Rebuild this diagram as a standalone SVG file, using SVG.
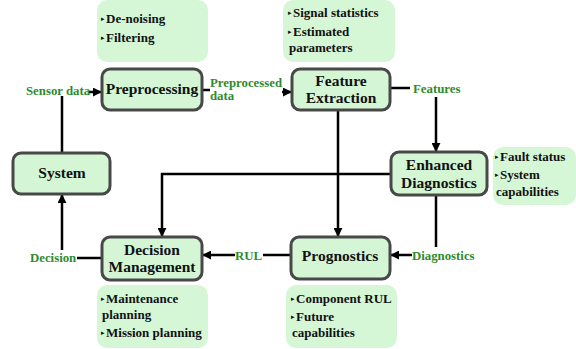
<svg xmlns="http://www.w3.org/2000/svg" width="576" height="349" viewBox="0 0 576 349">
  <defs>
    <marker id="arrow" viewBox="0 0 10 10" refX="9" refY="5" markerWidth="3.6" markerHeight="3.6" orient="auto" markerUnits="strokeWidth">
      <path d="M0,0 L10,5 L0,10 z" fill="#000"/>
    </marker>
  </defs>
  <style>
    .box { fill: #d4f6d4; stroke: #484848; stroke-width: 3; }
    .note { fill: #d6f7d6; stroke: none; }
    .lbl { font-family: "Liberation Serif", "Times New Roman", serif; font-weight: bold; font-size: 15.5px; fill: #111; text-anchor: middle; }
    .nt { font-family: "Liberation Serif", "Times New Roman", serif; font-weight: bold; font-size: 13px; fill: #111; }
    .bul { font-family: "DejaVu Sans", sans-serif; font-size: 7px; fill: #111; }
    .gl { font-family: "Liberation Serif", "Times New Roman", serif; font-weight: bold; font-size: 12.8px; fill: #2e8b2e; }
    .ln { fill: none; stroke: #000; stroke-width: 2.5; }
    .la { fill: none; stroke: #000; stroke-width: 2.5; marker-end: url(#arrow); }
  </style>

  <!-- connectors -->
  <g id="connectors">
    <!-- sensor data into preprocessing, and system feed -->
    <line class="la" x1="89" y1="92" x2="101" y2="92"/>
    <line class="ln" x1="62" y1="96" x2="62" y2="153"/>
    <text class="gl" x="26" y="95">Sensor data</text>

    <!-- preprocessing to feature extraction -->
    <line class="ln" x1="202" y1="90" x2="210" y2="90"/>
    <text class="gl" x="210" y="87">Preprocessed</text>
    <text class="gl" x="210" y="100">data</text>
    <line class="la" x1="282" y1="92" x2="291" y2="92"/>

    <!-- feature extraction to enhanced diagnostics -->
    <line class="ln" x1="390" y1="88" x2="410" y2="88"/>
    <text class="gl" x="413" y="93">Features</text>
    <line class="la" x1="436" y1="97" x2="436" y2="151"/>

    <!-- feature extraction to prognostics -->
    <line class="la" x1="338" y1="110" x2="338" y2="236"/>

    <!-- enhanced diagnostics to decision management -->
    <polyline class="la" points="391,174 162,174 162,236"/>

    <!-- enhanced diagnostics to prognostics -->
    <line class="ln" x1="436" y1="195" x2="436" y2="247"/>
    <text class="gl" x="412" y="260">Diagnostics</text>
    <line class="la" x1="412" y1="255" x2="391" y2="255"/>

    <!-- prognostics to decision management -->
    <line class="ln" x1="291" y1="255" x2="263" y2="255"/>
    <text class="gl" x="235" y="260">RUL</text>
    <line class="la" x1="235" y1="255" x2="203" y2="255"/>

    <!-- decision back to system -->
    <line class="ln" x1="102" y1="258" x2="77" y2="258"/>
    <text class="gl" x="30" y="262">Decision</text>
    <line class="la" x1="62" y1="250" x2="62" y2="195"/>
  </g>

  <!-- notes -->
  <g id="note-preprocessing">
    <rect class="note" x="97" y="0" width="111" height="62" rx="10"/>
    <text class="bul" x="101" y="21">▸</text>
    <text class="nt" x="106" y="23">De-noising</text>
    <text class="bul" x="101" y="40">▸</text>
    <text class="nt" x="106" y="42">Filtering</text>
  </g>
  <g id="note-feature">
    <rect class="note" x="283" y="0" width="112" height="62" rx="10"/>
    <text class="bul" x="288" y="15">▸</text>
    <text class="nt" x="293" y="17">Signal statistics</text>
    <text class="bul" x="288" y="34">▸</text>
    <text class="nt" x="293" y="36">Estimated</text>
    <text class="nt" x="289" y="52">parameters</text>
  </g>
  <g id="note-diagnostics">
    <rect class="note" x="493" y="147" width="83" height="58" rx="10"/>
    <text class="bul" x="495" y="159">▸</text>
    <text class="nt" x="500" y="161">Fault status</text>
    <text class="bul" x="495" y="177">▸</text>
    <text class="nt" x="500" y="179">System</text>
    <text class="nt" x="496" y="196">capabilities</text>
  </g>
  <g id="note-decision">
    <rect class="note" x="97" y="285" width="111" height="63" rx="10"/>
    <text class="bul" x="101" y="301">▸</text>
    <text class="nt" x="106" y="303">Maintenance</text>
    <text class="nt" x="102" y="319">planning</text>
    <text class="bul" x="101" y="335">▸</text>
    <text class="nt" x="106" y="337">Mission planning</text>
  </g>
  <g id="note-prognostics">
    <rect class="note" x="286" y="285" width="111" height="63" rx="10"/>
    <text class="bul" x="291" y="301">▸</text>
    <text class="nt" x="296" y="303">Component RUL</text>
    <text class="bul" x="291" y="319">▸</text>
    <text class="nt" x="296" y="321">Future</text>
    <text class="nt" x="292" y="337">capabilities</text>
  </g>

  <!-- nodes -->
  <g id="preprocessing">
    <rect class="box" x="102" y="69" width="100" height="41" rx="8"/>
    <text class="lbl" x="152" y="94">Preprocessing</text>
  </g>
  <g id="feature-extraction">
    <rect class="box" x="292" y="69" width="98" height="41" rx="8"/>
    <text class="lbl" x="341" y="86">Feature</text>
    <text class="lbl" x="341" y="103">Extraction</text>
  </g>
  <g id="enhanced-diagnostics">
    <rect class="box" x="391" y="152" width="96" height="43" rx="8"/>
    <text class="lbl" x="439" y="170">Enhanced</text>
    <text class="lbl" x="439" y="188">Diagnostics</text>
  </g>
  <g id="system">
    <rect class="box" x="13" y="153" width="97" height="41" rx="8"/>
    <text class="lbl" x="62" y="178">System</text>
  </g>
  <g id="decision-management">
    <rect class="box" x="102" y="237" width="100" height="43" rx="8"/>
    <text class="lbl" x="152" y="255">Decision</text>
    <text class="lbl" x="152" y="272">Management</text>
  </g>
  <g id="prognostics">
    <rect class="box" x="291" y="237" width="99" height="42" rx="8"/>
    <text class="lbl" x="340" y="261">Prognostics</text>
  </g>
</svg>
